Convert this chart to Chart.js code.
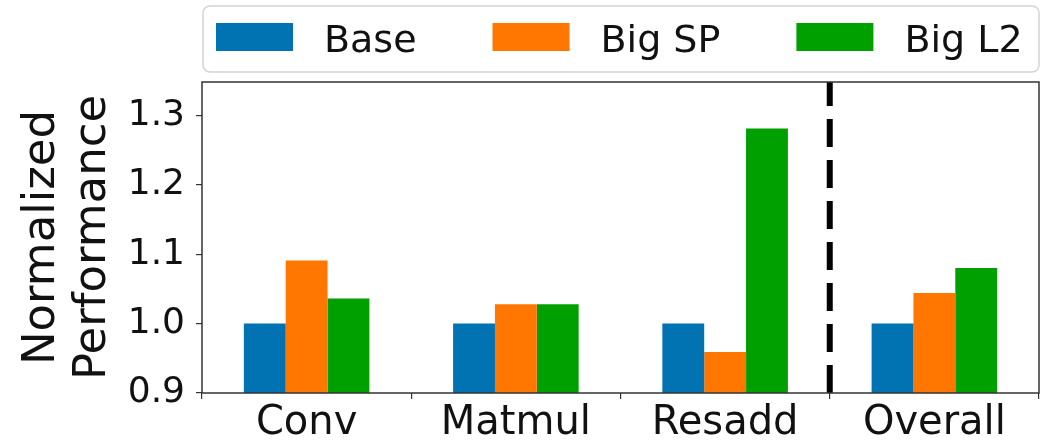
<!DOCTYPE html>
<html>
<head>
<meta charset="utf-8">
<script src="https://cdn.jsdelivr.net/npm/chart.js@4.4.1/dist/chart.umd.min.js"></script>
<style>
  html, body { margin: 0; padding: 0; background: #fff; }
  #wrap { width: 1050px; height: 442px; }
</style>
</head>
<body>
<div id="wrap"><canvas id="myChart" width="1050" height="442"></canvas></div>
<script>
var categories = ['Conv', 'Matmul', 'Resadd', 'Overall'];
var baseValues = [1.0, 1.0, 1.0, 1.0];
var bigSpValues = [1.091, 1.028, 0.959, 1.044];
var bigL2Values = [1.036, 1.028, 1.281, 1.080];
var yTicks = [0.9, 1.0, 1.1, 1.2, 1.3];

var FONT = 'DejaVu Sans';

// box around the plot (matplotlib spines)
var frame = {
    id: 'frame',
    afterDatasetsDraw: function(chart) {
        var a = chart.chartArea, c = chart.ctx;
        c.save();
        c.strokeStyle = '#333';
        c.lineWidth = 1.5;
        c.strokeRect(a.left, a.top, a.right - a.left, a.bottom - a.top);
        c.restore();
    }
};

// dashed divider between Resadd and Overall
var divider = {
    id: 'divider',
    afterDatasetsDraw: function(chart) {
        var x = chart.scales.x, a = chart.chartArea, c = chart.ctx;
        var px = (x.getPixelForValue(2) + x.getPixelForValue(3)) / 2;
        c.save();
        c.strokeStyle = '#000';
        c.lineWidth = 6;
        c.setLineDash([28, 13]);
        c.beginPath();
        c.moveTo(px, a.bottom);
        c.lineTo(px, a.top);
        c.stroke();
        c.restore();
    }
};

// framed legend above the plot
var boxLegend = {
    id: 'boxLegend',
    afterDraw: function(chart) {
        var c = chart.ctx;
        c.save();
        c.beginPath();
        c.roundRect(203, 6, 836, 66, 7);
        c.fillStyle = '#fff';
        c.fill();
        c.strokeStyle = '#d4d4d4';
        c.lineWidth = 1.5;
        c.stroke();
        c.font = '38px "' + FONT + '"';
        c.textBaseline = 'alphabetic';
        var x = 216;
        chart.data.datasets.forEach(function(ds) {
            c.fillStyle = ds.backgroundColor;
            c.fillRect(x, 23, 77, 28);
            x += 77 + 31;
            c.fillStyle = '#111';
            c.fillText(ds.label, x, 52);
            x += c.measureText(ds.label).width + 76;
        });
        c.restore();
    }
};

var ctx = document.getElementById('myChart').getContext('2d');
var myChart = new Chart(ctx, {
    type: 'bar',
    data: {
        labels: categories,
        datasets: [
            { label: 'Base', data: baseValues, backgroundColor: '#0173B2' },
            { label: 'Big SP', data: bigSpValues, backgroundColor: '#FF7700' },
            { label: 'Big L2', data: bigL2Values, backgroundColor: '#00A000' }
        ]
    },
    options: {
        responsive: false,
        animation: false,
        datasets: {
            bar: { categoryPercentage: 0.6, barPercentage: 1.0, borderWidth: 0 }
        },
        layout: { padding: { left: 12, right: 11, top: 82, bottom: 0 } },
        plugins: {
            legend: { display: false },
            tooltip: { enabled: false }
        },
        scales: {
            x: {
                offset: true,
                border: { display: false },
                grid: { drawOnChartArea: false, drawTicks: true, tickLength: 6, color: '#333', lineWidth: 1.2 },
                ticks: {
                    color: '#111',
                    font: { family: FONT, size: 40, lineHeight: 1.15 },
                    padding: 2,
                    maxRotation: 0,
                    autoSkip: false
                },
                afterFit: function(scale) { scale.height = 49; }
            },
            y: {
                min: 0.9,
                max: 1.348,
                border: { display: false },
                grid: { drawOnChartArea: false, drawTicks: true, tickLength: 6, color: '#333', lineWidth: 1.2 },
                ticks: {
                    color: '#111',
                    font: { family: FONT, size: 36 },
                    padding: 11,
                    callback: function(v) { return Number(v).toFixed(1); }
                },
                afterBuildTicks: function(scale) {
                    scale.ticks = yTicks.map(function(v) { return { value: v }; });
                },
                afterFit: function(scale) { scale.width = 190; },
                title: {
                    display: true,
                    text: ['Normalized', 'Performance'],
                    color: '#111',
                    font: { family: FONT, size: 45, lineHeight: 1.13 },
                    padding: { top: 5, bottom: 0 }
                }
            }
        }
    },
    plugins: [divider, frame, boxLegend]
});
</script>
</body>
</html>
